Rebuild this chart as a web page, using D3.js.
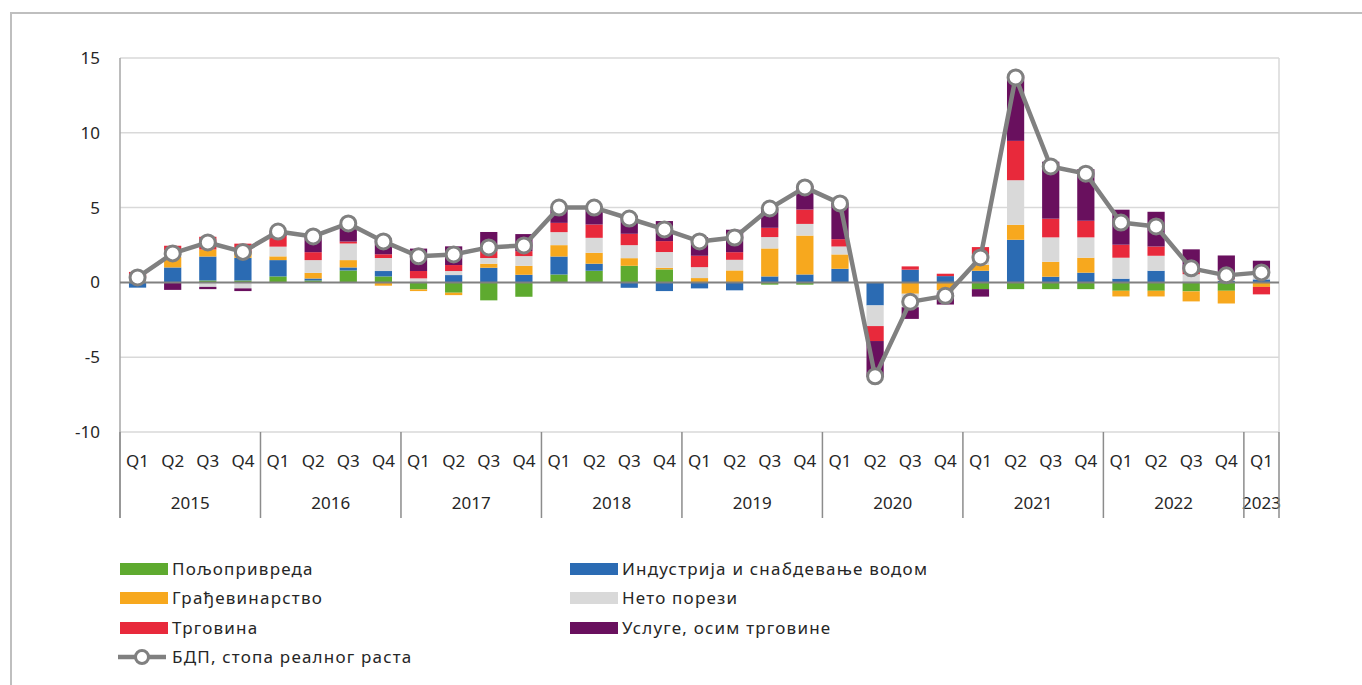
<html lang="sr">
<head>
<meta charset="UTF-8">
<title>БДП</title>
<style>
  body { margin: 0; background: #fff; font-family: "Noto Sans", sans-serif; }
  text { fill: #262626; }
</style>
</head>
<body>
<div id="chart"></div>
<script src="https://d3js.org/d3.v7.min.js"></script>
<script>
const years = ["2015", "2016", "2017", "2018", "2019", "2020", "2021", "2022", "2023"];
const quarters = ["Q1", "Q2", "Q3", "Q4"];

const agriculture = [0.05, 0, 0.13, 0.13, 0.4, 0.13, 0.8, 0.4, -0.47, -0.69, -1.2, -0.96, 0.53, 0.78, 1.11, 0.87, 0, 0, -0.15, -0.15, 0, 0, 0, 0, -0.45, -0.45, -0.45, -0.45, -0.56, -0.56, -0.6, -0.56, 0];
const industry = [-0.35, 1.0, 1.6, 1.51, 1.09, 0.13, 0.2, 0.36, 0, 0.49, 0.98, 0.51, 1.2, 0.47, -0.36, -0.58, -0.4, -0.53, 0.4, 0.53, 0.91, -1.54, 0.85, 0.42, 0.78, 2.85, 0.38, 0.65, 0.25, 0.78, 0.05, 0.1, 0.2];
const construction = [0, 0.7, 0.47, 0.35, 0.25, 0.38, 0.49, -0.22, -0.11, -0.16, 0.27, 0.6, 0.76, 0.73, 0.51, 0.11, 0.29, 0.8, 1.87, 2.6, 0.96, 0, -0.76, -0.53, 0.4, 1.0, 1.0, 1.0, -0.38, -0.38, -0.67, -0.85, -0.3];
const netTaxes = [0.3, 0.45, -0.3, -0.4, 0.65, 0.85, 1.11, 0.87, 0.27, 0.27, 0.38, 0.65, 0.87, 1.0, 0.87, 1.05, 0.73, 0.71, 0.76, 0.78, 0.53, -1.38, -0.9, -0.2, 0.67, 2.98, 1.63, 1.36, 1.4, 1.0, 0.5, 0.1, 0.45];
const trade = [0.35, 0.3, 0.85, 0.6, 0.71, 0.53, 0.13, 0.25, 0.49, 0.4, 0.47, 0.33, 0.62, 0.89, 0.76, 0.73, 0.76, 0.51, 0.62, 0.96, 0.49, -1.0, 0.22, 0.16, 0.51, 2.63, 1.25, 1.11, 0.87, 0.62, 0.3, 0.05, -0.5];
const services = [0, -0.5, -0.15, -0.18, 0.25, 1.07, 1.15, 1.05, 1.5, 1.25, 1.27, 1.14, 0.89, 1.2, 1.2, 1.34, 1.25, 1.5, 1.25, 1.6, 2.36, -2.41, -0.78, -0.75, -0.5, 4.4, 3.81, 3.45, 2.34, 2.32, 1.36, 1.55, 0.8];
const gdp = [0.33, 1.94, 2.67, 2.04, 3.4, 3.07, 3.94, 2.74, 1.74, 1.87, 2.34, 2.47, 5.0, 5.0, 4.27, 3.54, 2.74, 3.0, 4.94, 6.35, 5.28, -6.28, -1.3, -0.9, 1.67, 13.7, 7.75, 7.27, 4.0, 3.74, 0.94, 0.47, 0.67];

const seriesNames = ["Пољопривреда", "Индустрија и снабдевање водом", "Грађевинарство", "Нето порези", "Трговина", "Услуге, осим трговине"];
const lineName = "БДП, стопа реалног раста";
const colors = ["#5EAA2F", "#2B6BB3", "#F7A81E", "#D9D9D9", "#E8293B", "#69105E"];
const yTicks = [-10, -5, 0, 5, 10, 15];

// category list, one entry per quarter up to 2023 Q1
const periods = [];
years.forEach(y => quarters.forEach(q => {
  if (periods.length < gdp.length) periods.push({ year: y, q: q, id: y + q });
}));

const allSeries = [agriculture, industry, construction, netTaxes, trade, services];
const rows = periods.map((p, i) => {
  const r = { id: p.id };
  seriesNames.forEach((n, k) => r[n] = allSeries[k][i]);
  return r;
});

const width = 1362, height = 685;
const plot = { left: 120, right: 1279, top: 58, bottom: 432 };

const svg = d3.select('#chart').append('svg')
  .attr('width', width).attr('height', height);

// outer frame
svg.append('path')
  .attr('d', `M11,${height + 5} V13 H${width + 5}`)
  .attr('fill', 'none').attr('stroke', '#BFBFBF').attr('stroke-width', 2);

const x = d3.scaleBand().domain(periods.map(p => p.id)).range([plot.left, plot.right]);
const y = d3.scaleLinear().domain([-10, 15]).range([plot.bottom, plot.top]);
const barW = x.bandwidth() * 0.49;

// grid
svg.append('g').selectAll('line').data(yTicks.filter(t => t !== 0)).join('line')
  .attr('x1', plot.left).attr('x2', plot.right)
  .attr('y1', d => y(d)).attr('y2', d => y(d))
  .attr('stroke', '#D9D9D9').attr('stroke-width', 1.5);
svg.append('line')
  .attr('x1', plot.right).attr('x2', plot.right).attr('y1', plot.top).attr('y2', plot.bottom)
  .attr('stroke', '#D9D9D9').attr('stroke-width', 1.5);

// y axis
const yAxis = svg.append('g')
  .attr('transform', `translate(${plot.left},0)`)
  .call(d3.axisLeft(y).tickValues(yTicks).tickFormat(d => String(d)).tickSize(0).tickPadding(20));
yAxis.select('.domain').remove();
yAxis.selectAll('text').style('font-size', '17px').style('font-family', '"Noto Sans", sans-serif').attr('fill', '#262626');
svg.append('line')
  .attr('x1', plot.left).attr('x2', plot.left).attr('y1', plot.top).attr('y2', 518)
  .attr('stroke', '#A6A6A6').attr('stroke-width', 1.5);

// stacked bars
const stack = d3.stack().keys(seriesNames).offset(d3.stackOffsetDiverging);
const stacked = stack(rows);
svg.append('g').selectAll('g').data(stacked).join('g')
  .attr('fill', (d, i) => colors[i])
  .selectAll('rect').data(d => d).join('rect')
  .attr('x', d => x(d.data.id) + (x.bandwidth() - barW) / 2)
  .attr('width', barW)
  .attr('y', d => y(Math.max(d[0], d[1])))
  .attr('height', d => Math.abs(y(d[0]) - y(d[1])));

// zero line
svg.append('line')
  .attr('x1', plot.left).attr('x2', plot.right).attr('y1', y(0)).attr('y2', y(0))
  .attr('stroke', '#808080').attr('stroke-width', 2);

// category axis: quarters and years
const catAxis = svg.append('g');
catAxis.selectAll('text.q').data(periods).join('text')
  .attr('class', 'q')
  .attr('x', d => x(d.id) + x.bandwidth() / 2)
  .attr('y', 467)
  .attr('text-anchor', 'middle')
  .style('font-size', '17px')
  .text(d => d.q);

const yearGroups = years.map(yr => {
  const ps = periods.filter(p => p.year === yr);
  return { year: yr, x0: x(ps[0].id), x1: x(ps[ps.length - 1].id) + x.bandwidth() };
});
catAxis.selectAll('text.y').data(yearGroups).join('text')
  .attr('class', 'y')
  .attr('x', d => (d.x0 + d.x1) / 2)
  .attr('y', 509)
  .attr('text-anchor', 'middle')
  .style('font-size', '17px')
  .text(d => d.year);
const seps = yearGroups.map(d => d.x0).concat([plot.right]);
catAxis.selectAll('line').data(seps).join('line')
  .attr('x1', d => d).attr('x2', d => d)
  .attr('y1', plot.bottom).attr('y2', 518)
  .attr('stroke', '#8C8C8C').attr('stroke-width', 1.5);

// GDP line
const line = d3.line().x((d, i) => x(periods[i].id) + x.bandwidth() / 2).y(d => y(d));
svg.append('path').datum(gdp)
  .attr('d', line).attr('fill', 'none')
  .attr('stroke', '#808080').attr('stroke-width', 4.5).attr('stroke-linejoin', 'round');
svg.append('g').selectAll('circle').data(gdp).join('circle')
  .attr('cx', (d, i) => x(periods[i].id) + x.bandwidth() / 2)
  .attr('cy', d => y(d))
  .attr('r', 7.5)
  .attr('fill', '#fff').attr('stroke', '#808080').attr('stroke-width', 3);

// legend
const legendPos = [[120, 569], [570, 569], [120, 598], [570, 598], [120, 628], [570, 628]];
const legend = svg.append('g').style('letter-spacing', '1.2px');
seriesNames.forEach((n, i) => {
  const [lx, ly] = legendPos[i];
  legend.append('rect').attr('x', lx).attr('y', ly - 6).attr('width', 48).attr('height', 12).attr('fill', colors[i]);
  legend.append('text').attr('x', lx + 52).attr('y', ly + 6).style('font-size', '17px').text(n);
});
legend.append('line').attr('x1', 118).attr('x2', 166).attr('y1', 657).attr('y2', 657)
  .attr('stroke', '#808080').attr('stroke-width', 4.5);
legend.append('circle').attr('cx', 142).attr('cy', 657).attr('r', 6.5)
  .attr('fill', '#fff').attr('stroke', '#808080').attr('stroke-width', 3);
legend.append('text').attr('x', 172).attr('y', 663).style('font-size', '17px').text(lineName);
</script>
</body>
</html>
